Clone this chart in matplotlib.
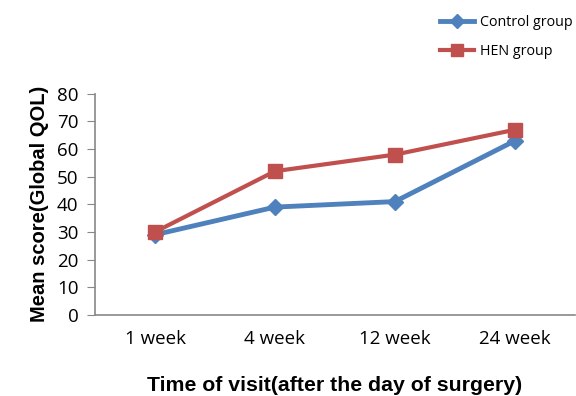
import matplotlib.pyplot as plt
import numpy as np

# data
visits = ['1 week', '4 week', '12 week', '24 week']
control = [29, 39, 41, 63]
hen = [30, 52, 58, 67]

fig = plt.figure(figsize=(5.76, 3.96), dpi=100)
ax = fig.add_axes([0.165, 0.205, 0.833, 0.558])

x = np.arange(len(visits))
ax.plot(x, control, color='#4F81BD', lw=3.5, marker='D', ms=8, label='Control group')
ax.plot(x, hen, color='#C0504D', lw=3, marker='s', ms=10, label='HEN group')

ax.set_xlim(-0.5, len(visits) - 0.5)
ax.set_ylim(0, 80)
ax.set_yticks(range(0, 81, 10))
ax.set_xticks(x)
ax.set_xticklabels(visits)

for s in ['top', 'right']:
    ax.spines[s].set_visible(False)
for s in ['left', 'bottom']:
    ax.spines[s].set_color('#888888')
    ax.spines[s].set_linewidth(1.2)
ax.tick_params(axis='y', length=6, color='#888888', labelsize=13.5, pad=6)
ax.tick_params(axis='x', length=0, labelsize=13.5, pad=11)
for t in ax.get_xticklabels() + ax.get_yticklabels():
    t.set_fontfamily('Open Sans')

ax.set_xlabel('Time of visit(after the day of surgery)', fontsize=15.3,
              fontweight='bold', family='Liberation Sans', labelpad=20)
ax.set_ylabel('Mean score(Global QOL)', fontsize=14.5,
              fontweight='bold', family='Liberation Sans', labelpad=6)

fig.legend(loc='upper right', bbox_to_anchor=(1.016, 0.995), frameon=False,
           prop={'family': 'Open Sans', 'size': 10.3}, handlelength=2.4,
           labelspacing=1.0, handletextpad=0.4, markerscale=0.85)

fig.savefig('out.png', dpi=100)
